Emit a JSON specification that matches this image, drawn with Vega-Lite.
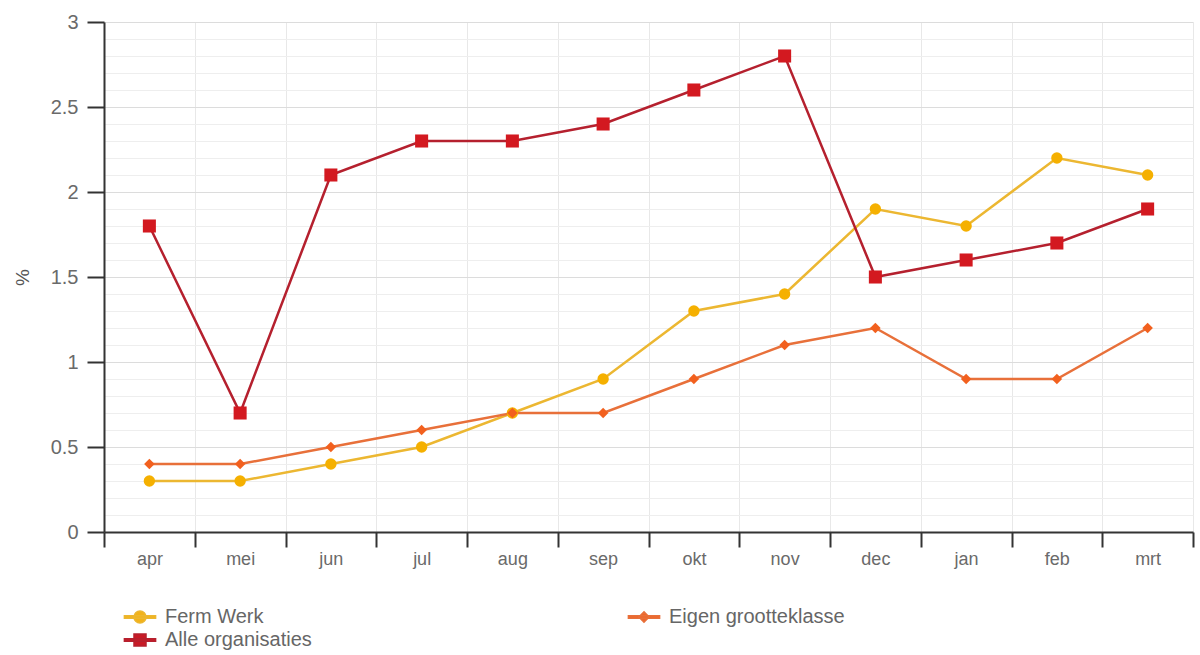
{
  "$schema": "https://vega.github.io/schema/vega-lite/v6.json",
  "width": 1089,
  "height": 510,
  "autosize": "none",
  "padding": {"left": 104, "top": 22, "right": 7, "bottom": 123},
  "background": "white",
  "config": {
    "font": "Liberation Sans",
    "view": {"stroke": null},
    "axis": {"labelFont": "Liberation Sans", "titleFont": "Liberation Sans"}
  },
  "data": {
    "values": [
      {"maand": "apr", "reeks": "Ferm Werk", "waarde": 0.3},
      {"maand": "mei", "reeks": "Ferm Werk", "waarde": 0.3},
      {"maand": "jun", "reeks": "Ferm Werk", "waarde": 0.4},
      {"maand": "jul", "reeks": "Ferm Werk", "waarde": 0.5},
      {"maand": "aug", "reeks": "Ferm Werk", "waarde": 0.7},
      {"maand": "sep", "reeks": "Ferm Werk", "waarde": 0.9},
      {"maand": "okt", "reeks": "Ferm Werk", "waarde": 1.3},
      {"maand": "nov", "reeks": "Ferm Werk", "waarde": 1.4},
      {"maand": "dec", "reeks": "Ferm Werk", "waarde": 1.9},
      {"maand": "jan", "reeks": "Ferm Werk", "waarde": 1.8},
      {"maand": "feb", "reeks": "Ferm Werk", "waarde": 2.2},
      {"maand": "mrt", "reeks": "Ferm Werk", "waarde": 2.1},
      {"maand": "apr", "reeks": "Eigen grootteklasse", "waarde": 0.4},
      {"maand": "mei", "reeks": "Eigen grootteklasse", "waarde": 0.4},
      {"maand": "jun", "reeks": "Eigen grootteklasse", "waarde": 0.5},
      {"maand": "jul", "reeks": "Eigen grootteklasse", "waarde": 0.6},
      {"maand": "aug", "reeks": "Eigen grootteklasse", "waarde": 0.7},
      {"maand": "sep", "reeks": "Eigen grootteklasse", "waarde": 0.7},
      {"maand": "okt", "reeks": "Eigen grootteklasse", "waarde": 0.9},
      {"maand": "nov", "reeks": "Eigen grootteklasse", "waarde": 1.1},
      {"maand": "dec", "reeks": "Eigen grootteklasse", "waarde": 1.2},
      {"maand": "jan", "reeks": "Eigen grootteklasse", "waarde": 0.9},
      {"maand": "feb", "reeks": "Eigen grootteklasse", "waarde": 0.9},
      {"maand": "mrt", "reeks": "Eigen grootteklasse", "waarde": 1.2},
      {"maand": "apr", "reeks": "Alle organisaties", "waarde": 1.8},
      {"maand": "mei", "reeks": "Alle organisaties", "waarde": 0.7},
      {"maand": "jun", "reeks": "Alle organisaties", "waarde": 2.1},
      {"maand": "jul", "reeks": "Alle organisaties", "waarde": 2.3},
      {"maand": "aug", "reeks": "Alle organisaties", "waarde": 2.3},
      {"maand": "sep", "reeks": "Alle organisaties", "waarde": 2.4},
      {"maand": "okt", "reeks": "Alle organisaties", "waarde": 2.6},
      {"maand": "nov", "reeks": "Alle organisaties", "waarde": 2.8},
      {"maand": "dec", "reeks": "Alle organisaties", "waarde": 1.5},
      {"maand": "jan", "reeks": "Alle organisaties", "waarde": 1.6},
      {"maand": "feb", "reeks": "Alle organisaties", "waarde": 1.7},
      {"maand": "mrt", "reeks": "Alle organisaties", "waarde": 1.9}
    ]
  },
  "encoding": {
    "x": {
      "field": "maand",
      "type": "ordinal",
      "sort": null,
      "bandPosition": 0.5,
      "scale": {"type": "band", "paddingInner": 0, "paddingOuter": 0},
      "axis": {
        "title": null,
        "tickBand": "extent",
        "labelAngle": 0,
        "labelFontSize": 18,
        "labelColor": "#6a6a6a",
        "labelPadding": 3,
        "tickSize": 15,
        "tickWidth": 2,
        "tickColor": "#333333",
        "domainColor": "#333333",
        "domainWidth": 2,
        "grid": true,
        "gridColor": "#e8e8e8",
        "gridWidth": 1
      }
    },
    "y": {
      "field": "waarde",
      "type": "quantitative",
      "scale": {"domain": [0, 3], "nice": false, "zero": true},
      "axis": {
        "title": "%",
        "titleFontSize": 19,
        "titleFontWeight": "normal",
        "titleColor": "#555555",
        "titlePadding": 18,
        "values": [0, 0.1, 0.2, 0.3, 0.4, 0.5, 0.6, 0.7, 0.8, 0.9, 1, 1.1, 1.2, 1.3, 1.4, 1.5, 1.6, 1.7, 1.8, 1.9, 2, 2.1, 2.2, 2.3, 2.4, 2.5, 2.6, 2.7, 2.8, 2.9, 3],
        "format": "~g",
        "labelExpr": "abs(round(datum.value * 10) % 5) == 0 ? datum.label : ''",
        "labelFontSize": 20,
        "labelColor": "#6a6a6a",
        "labelPadding": 9,
        "tickSize": 17,
        "tickWidth": 2,
        "tickColor": "#333333",
        "tickOpacity": {"condition": {"test": "abs(round(datum.value * 10) % 5) == 0", "value": 1}, "value": 0},
        "domainColor": "#333333",
        "domainWidth": 2,
        "grid": true,
        "gridColor": {"condition": {"test": "abs(round(datum.value * 10) % 5) == 0", "value": "#dcdcdc"}, "value": "#eeeeee"},
        "gridWidth": 1
      }
    }
  },
  "layer": [
    {
      "mark": {"type": "line", "strokeWidth": 2.5},
      "encoding": {
        "color": {
          "field": "reeks",
          "type": "nominal",
          "scale": {
            "domain": ["Ferm Werk", "Eigen grootteklasse", "Alle organisaties"],
            "range": ["#ecb731", "#e8703a", "#b5202e"]
          },
          "legend": {
            "title": null,
            "orient": "none",
            "legendX": 26,
            "legendY": 585,
            "direction": "horizontal",
            "columns": 2,
            "columnPadding": 313,
            "rowPadding": 3,
            "symbolSize": 144,
            "labelOffset": 15,
            "labelFontSize": 20,
            "labelColor": "#666666",
            "labelLimit": 400,
            "padding": 0,
            "encode": {
              "symbols": {
                "update": {
                  "shape": {"signal": "datum.value == 'Ferm Werk' ? 'M-2.6,-0.2H2.6V0.2H-2.6Z M1,0A1,1,0,1,1,-1,0A1,1,0,1,1,1,0Z' : (datum.value == 'Alle organisaties' ? 'M-2.6,-0.2H2.6V0.2H-2.6Z M-1,-1H1V1H-1Z' : 'M-2.6,-0.2H2.6V0.2H-2.6Z M0,-0.85L0.85,0L0,0.85L-0.85,0Z')"},
                  "fill": {"signal": "datum.value == 'Ferm Werk' ? '#f2b21a' : (datum.value == 'Alle organisaties' ? '#c81a26' : '#ee6628')"},
                  "fillOpacity": {"value": 1},
                  "stroke": {"value": "transparent"},
                  "opacity": {"value": 1}
                }
              }
            }
          }
        }
      }
    },
    {
      "transform": [{"filter": "datum.reeks == 'Ferm Werk'"}],
      "mark": {"type": "point", "shape": "circle", "filled": true, "opacity": 1, "color": "#f5b000", "size": 130}
    },
    {
      "transform": [{"filter": "datum.reeks == 'Eigen grootteklasse'"}],
      "mark": {"type": "point", "shape": "diamond", "filled": true, "opacity": 1, "color": "#f2601e", "size": 110}
    },
    {
      "transform": [{"filter": "datum.reeks == 'Alle organisaties'"}],
      "mark": {"type": "point", "shape": "square", "filled": true, "opacity": 1, "color": "#d31920", "size": 170}
    }
  ]
}
